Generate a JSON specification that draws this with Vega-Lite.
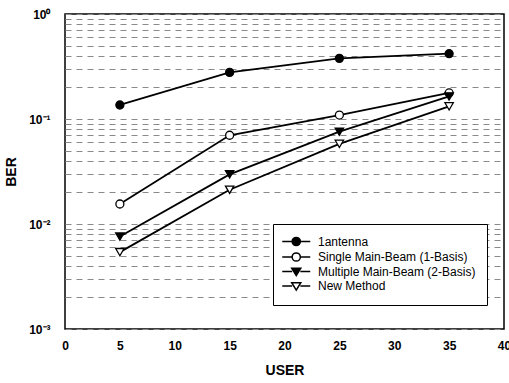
{
  "$schema": "https://vega.github.io/schema/vega-lite/v6.json",
  "width": 439,
  "height": 315,
  "autosize": "none",
  "padding": {"left": 65, "top": 14, "right": 5, "bottom": 54},
  "config": {
    "view": {"stroke": "black", "strokeWidth": 1.5},
    "font": "Liberation Sans",
    "legend": {
      "title": null,
      "orient": "none",
      "legendX": 208,
      "legendY": 210,
      "padding": 11,
      "strokeColor": "black",
      "fillColor": "white",
      "labelFontSize": 12,
      "labelColor": "black",
      "symbolSize": 121,
      "symbolStrokeWidth": 1.5,
      "rowPadding": 0.5,
      "labelOffset": 21
    }
  },
  "data": {
    "values": [
      {"series": "1antenna", "user": 5, "ber": 0.136},
      {"series": "1antenna", "user": 15, "ber": 0.278},
      {"series": "1antenna", "user": 25, "ber": 0.378},
      {"series": "1antenna", "user": 35, "ber": 0.419},
      {"series": "Single Main-Beam (1-Basis)", "user": 5, "ber": 0.0155},
      {"series": "Single Main-Beam (1-Basis)", "user": 15, "ber": 0.070},
      {"series": "Single Main-Beam (1-Basis)", "user": 25, "ber": 0.109},
      {"series": "Single Main-Beam (1-Basis)", "user": 35, "ber": 0.177},
      {"series": "Multiple Main-Beam (2-Basis)", "user": 5, "ber": 0.0076},
      {"series": "Multiple Main-Beam (2-Basis)", "user": 15, "ber": 0.0297},
      {"series": "Multiple Main-Beam (2-Basis)", "user": 25, "ber": 0.0757},
      {"series": "Multiple Main-Beam (2-Basis)", "user": 35, "ber": 0.164},
      {"series": "New Method", "user": 5, "ber": 0.0054},
      {"series": "New Method", "user": 15, "ber": 0.0212},
      {"series": "New Method", "user": 25, "ber": 0.058},
      {"series": "New Method", "user": 35, "ber": 0.132}
    ]
  },
  "encoding": {
    "x": {
      "field": "user",
      "type": "quantitative",
      "scale": {"domain": [0, 40], "nice": false},
      "axis": {
        "values": [0, 5, 10, 15, 20, 25, 30, 35, 40],
        "grid": false,
        "domain": false,
        "ticks": false,
        "labelFontSize": 12,
        "labelFontWeight": "bold",
        "labelColor": "black",
        "labelPadding": 11,
        "labelFlush": false,
        "title": "USER",
        "titleFontSize": 14,
        "titleFontWeight": "bold",
        "titleColor": "black",
        "titlePadding": 12
      }
    },
    "y": {
      "field": "ber",
      "type": "quantitative",
      "scale": {"type": "log", "domain": [0.001, 1], "nice": false},
      "axis": {
        "values": [0.001, 0.002, 0.003, 0.004, 0.005, 0.006, 0.007, 0.008, 0.009, 0.01, 0.02, 0.03, 0.04, 0.05, 0.06, 0.07, 0.08, 0.09, 0.1, 0.2, 0.3, 0.4, 0.5, 0.6, 0.7, 0.8, 0.9, 1],
        "labelExpr": "datum.value == 1 ? '10⁰' : datum.value == 0.1 ? '10⁻¹' : datum.value == 0.01 ? '10⁻²' : datum.value == 0.001 ? '10⁻³' : ''",
        "grid": true,
        "gridColor": "#8a8a8a",
        "gridDash": [6, 5],
        "gridWidth": 1,
        "domain": false,
        "ticks": false,
        "labelOverlap": false,
        "labelFlush": false,
        "labelFontSize": 12,
        "labelFontWeight": "bold",
        "labelColor": "black",
        "labelPadding": 15,
        "title": "BER",
        "titleFontSize": 14,
        "titleFontWeight": "bold",
        "titleColor": "black",
        "titlePadding": 10
      }
    }
  },
  "layer": [
    {
      "transform": [{"filter": "datum.user < 0"}],
      "mark": {"type": "point", "filled": true, "stroke": "black", "strokeWidth": 1.5, "size": 121, "opacity": 1},
      "encoding": {
        "shape": {
          "field": "series",
          "type": "nominal",
          "scale": {
            "domain": ["1antenna", "Single Main-Beam (1-Basis)", "Multiple Main-Beam (2-Basis)", "New Method"],
            "range": [
              "M-1.5,0H0.3M1.79,0H3.59M1.79,0A0.745,0.745 0 1,1 0.3,0A0.745,0.745 0 1,1 1.79,0Z",
              "M-1.5,0H0.3M1.79,0H3.59M1.79,0A0.745,0.745 0 1,1 0.3,0A0.745,0.745 0 1,1 1.79,0Z",
              "M-1.5,0H0.3M1.79,0H3.59M0.22,-0.6L1.87,-0.6L1.045,0.75Z",
              "M-1.5,0H0.3M1.79,0H3.59M0.22,-0.6L1.87,-0.6L1.045,0.75Z"
            ]
          }
        },
        "fill": {
          "field": "series",
          "type": "nominal",
          "scale": {
            "domain": ["1antenna", "Single Main-Beam (1-Basis)", "Multiple Main-Beam (2-Basis)", "New Method"],
            "range": ["black", "white", "black", "white"]
          }
        }
      }
    },
    {
      "mark": {"type": "line", "color": "black", "strokeWidth": 1.8},
      "encoding": {"detail": {"field": "series"}}
    },
    {
      "transform": [{"filter": "datum.series == '1antenna' || datum.series == 'Single Main-Beam (1-Basis)'"}],
      "mark": {"type": "point", "shape": "circle", "filled": true, "stroke": "black", "strokeWidth": 1.3, "size": 64, "opacity": 1},
      "encoding": {
        "fill": {"field": "series", "type": "nominal"}
      }
    },
    {
      "transform": [{"filter": "datum.series == 'Multiple Main-Beam (2-Basis)' || datum.series == 'New Method'"}],
      "mark": {"type": "point", "shape": "triangle-down", "filled": true, "stroke": "black", "strokeWidth": 1.3, "size": 70, "opacity": 1},
      "encoding": {
        "fill": {"field": "series", "type": "nominal"}
      }
    }
  ]
}
